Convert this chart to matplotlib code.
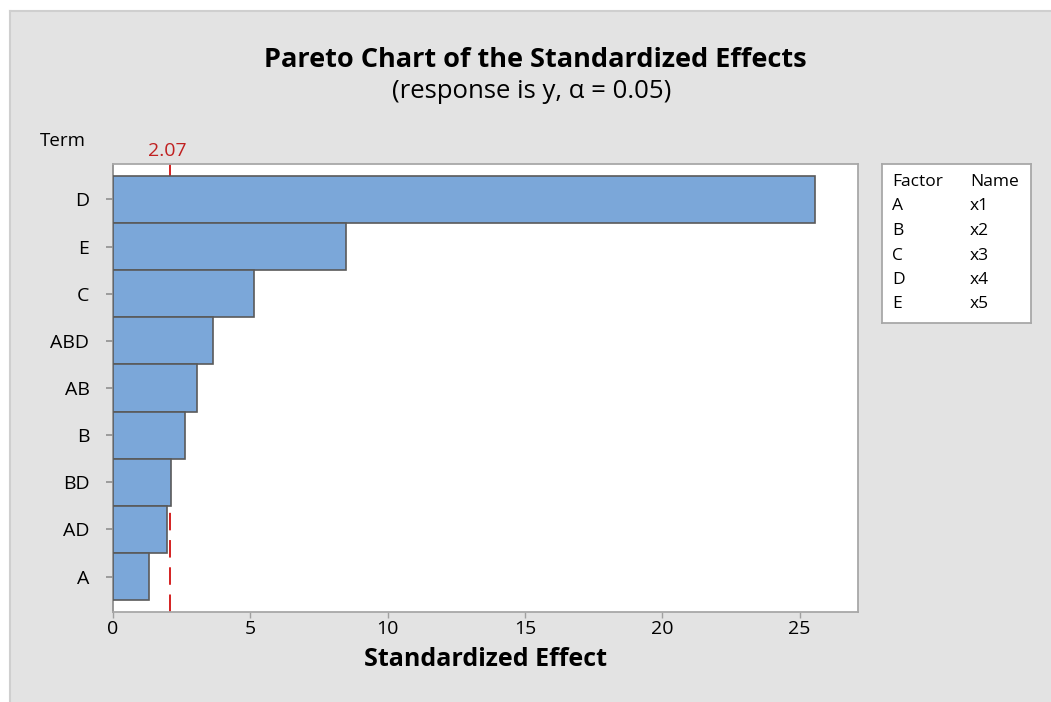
import matplotlib
matplotlib.use("Agg")
import matplotlib.pyplot as plt
from matplotlib.patches import Rectangle
from matplotlib.lines import Line2D

plt.rcParams['font.family'] = ['Open Sans', 'DejaVu Sans']

# data (largest effect on top)
terms = ['D', 'E', 'C', 'ABD', 'AB', 'B', 'BD', 'AD', 'A']
effects = [25.55, 8.48, 5.12, 3.63, 3.06, 2.62, 2.13, 1.98, 1.32]
threshold = 2.07
factors = ['A', 'B', 'C', 'D', 'E']
names = ['x1', 'x2', 'x3', 'x4', 'x5']

W, H = 1051, 702
bg = '#e3e3e3'
fig = plt.figure(figsize=(W / 100, H / 100), dpi=100, facecolor='white')
fig.patches.append(Rectangle((10 / W, 0), 1, 1 - 11 / H, transform=fig.transFigure,
                             facecolor=bg, edgecolor='none', zorder=-10))
fig.lines.append(Line2D([10 / W, 10 / W], [0, 1 - 11 / H], transform=fig.transFigure, color='#cfcfcf', lw=1.5))
fig.lines.append(Line2D([10 / W, 1], [1 - 11 / H, 1 - 11 / H], transform=fig.transFigure, color='#cfcfcf', lw=1.5))

ax = fig.add_axes([113 / W, 1 - 612 / H, 745 / W, 448 / H])
pos = list(range(len(terms)))
ax.barh(pos, effects, height=1.0, color='#7ba7d9', edgecolor='#5a5a5a', lw=1.2, zorder=3)
ax.axvline(threshold, color='#d42020', lw=1.4, ls=(0, (9, 5)), zorder=2)
ax.set_xlim(0, 27.13)
ax.set_ylim(len(terms) - 0.25, -0.75)
ax.set_yticks(pos)
ax.set_yticklabels(terms)
ax.set_xticks([0, 5, 10, 15, 20, 25])
ax.tick_params(axis='y', length=5, width=1.2, color='#909090', pad=12, labelsize=14)
ax.tick_params(axis='x', length=4, width=1, color='#a0a0a0', pad=2, labelsize=14)
for s in ax.spines.values():
    s.set_color('#a8a8a8')
    s.set_linewidth(1.3)
ax.spines['left'].set_color('#909090')
ax.set_xlabel('Standardized Effect', fontsize=18, fontweight='bold', labelpad=6)

ax.text(threshold - 0.1, 1.008, '2.07', transform=ax.get_xaxis_transform(), color='#c02020',
        ha='center', va='bottom', fontsize=14)
fig.text(63 / W, 1 - 141 / H, 'Term', ha='center', va='center', fontsize=13.5)

fig.text(535 / W, 1 - 60 / H, 'Pareto Chart of the Standardized Effects',
         ha='center', va='center', fontsize=19.5, fontweight='bold')
fig.text(532 / W, 1 - 92 / H, '(response is y, α = 0.05)',
         ha='center', va='center', fontsize=18.5)

# factor / name table
lg = fig.add_axes([882 / W, 1 - 323 / H, 149 / W, 159 / H])
lg.set_xticks([])
lg.set_yticks([])
lg.set_facecolor('white')
for s in lg.spines.values():
    s.set_color('#a8a8a8')
    s.set_linewidth(1.3)
rows = [('Factor', 'Name')] + list(zip(factors, names))
for i, (f, n) in enumerate(rows):
    y = 1 - (182 + i * 24.5) / H
    fig.text(892 / W, y, f, ha='left', va='center', fontsize=12.5)
    fig.text(970 / W, y, n, ha='left', va='center', fontsize=12.5)

fig.savefig('out.png', dpi=100, facecolor='white')
